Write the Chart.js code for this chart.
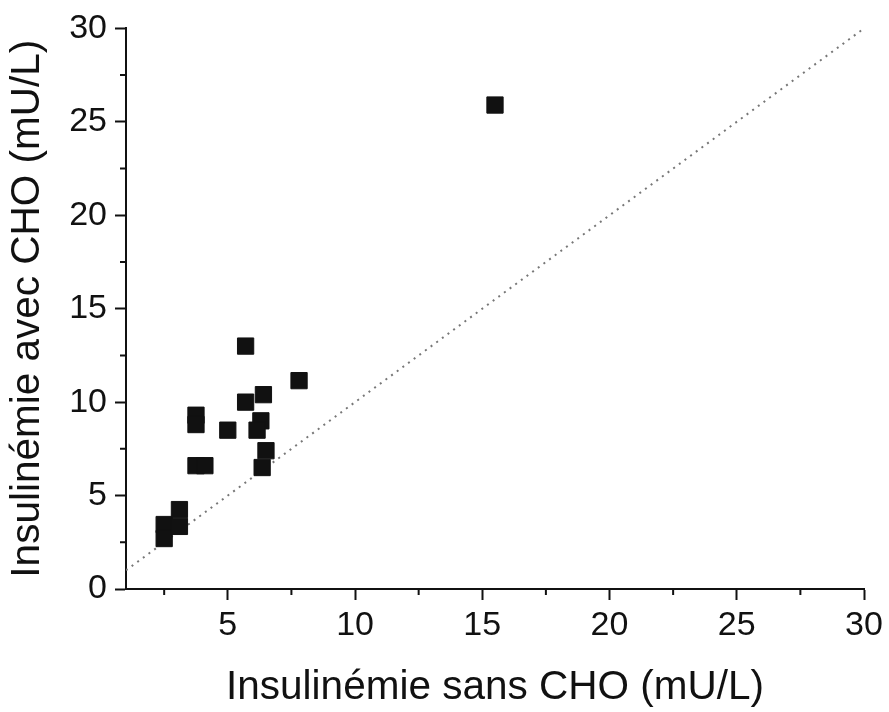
<!DOCTYPE html>
<html>
<head>
<meta charset="utf-8">
<script src="https://cdn.jsdelivr.net/npm/chart.js@4"></script>
<style>
  html, body { margin: 0; padding: 0; background: #fff; }
  #wrap { width: 889px; height: 712px; position: relative; }
</style>
</head>
<body>
<div id="wrap"><canvas id="graphique"></canvas></div>
<script>
// valeurs
const sansCHO = [5.7, 7.8, 6.4, 5.7, 3.75, 3.75, 5.0, 6.3, 6.15, 3.75, 4.1, 6.5, 6.35, 2.5, 2.5, 3.1, 3.1, 15.5];
const avecCHO = [13.0, 11.15, 10.4, 10.0, 9.3, 8.8, 8.5, 9.0, 8.5, 6.6, 6.6, 7.4, 6.5, 3.45, 2.7, 4.25, 3.35, 25.9];
const identite = [1, 30];
const ticksMajeurs = [0, 5, 10, 15, 20, 25, 30];
const ticksMineurs = [2.5, 7.5, 12.5, 17.5, 22.5, 27.5];

const titreX = 'Insulinémie sans CHO (mU/L)';
const titreY = 'Insulinémie avec CHO (mU/L)';

const points = sansCHO.map((x, i) => ({ x: x, y: avecCHO[i] }));
const diagonale = identite.map(v => ({ x: v, y: v }));

const police = 'Liberation Sans, Arial, sans-serif';

// petits traits secondaires sur les axes
const traitsMineurs = {
  id: 'traitsMineurs',
  afterDraw(chart) {
    const ctx = chart.ctx;
    const sx = chart.scales.x, sy = chart.scales.y;
    ctx.save();
    ctx.strokeStyle = '#111';
    ctx.lineWidth = 2;
    ctx.beginPath();
    ticksMineurs.forEach(v => {
      if (v >= sx.min && v <= sx.max) {
        const px = sx.getPixelForValue(v);
        ctx.moveTo(px, sx.top);
        ctx.lineTo(px, sx.top + 6);
      }
      if (v >= sy.min && v <= sy.max) {
        const py = sy.getPixelForValue(v);
        ctx.moveTo(sy.right, py);
        ctx.lineTo(sy.right - 6, py);
      }
    });
    ctx.stroke();
    ctx.restore();
  }
};

new Chart(document.getElementById('graphique'), {
  type: 'scatter',
  data: {
    datasets: [
      {
        label: 'points',
        data: points,
        pointStyle: 'rect',
        pointRadius: 11.5,
        pointBackgroundColor: '#111',
        pointBorderColor: '#111',
        pointBorderWidth: 1,
        showLine: false
      },
      {
        label: 'y = x',
        data: diagonale,
        showLine: true,
        borderColor: '#777',
        borderWidth: 2,
        borderDash: [2, 5],
        pointRadius: 0
      }
    ]
  },
  plugins: [traitsMineurs],
  options: {
    responsive: true,
    maintainAspectRatio: false,
    animation: false,
    layout: { padding: { top: 25, right: 25, bottom: 0, left: 0 } },
    plugins: {
      legend: { display: false },
      tooltip: { enabled: false }
    },
    scales: {
      x: {
        type: 'linear',
        min: 1,
        max: 30,
        afterBuildTicks: (scale) => { scale.ticks = ticksMajeurs.filter(v => v >= 5).map(v => ({ value: v })); },
        afterFit: (scale) => { scale.height = 123; },
        grid: { drawOnChartArea: false, drawTicks: true, tickLength: 11, tickWidth: 2, tickColor: '#111' },
        border: { display: true, color: '#111', width: 2 },
        ticks: { color: '#111', padding: 5, font: { family: police, size: 34 }, maxRotation: 0 },
        title: { display: true, text: titreX, color: '#111', padding: 0, font: { family: police, size: 40.5 } }
      },
      y: {
        type: 'linear',
        min: 0,
        max: 30,
        afterBuildTicks: (scale) => { scale.ticks = ticksMajeurs.map(v => ({ value: v })); },
        afterFit: (scale) => { scale.width = 126; },
        grid: { drawOnChartArea: false, drawTicks: true, tickLength: 11, tickWidth: 2, tickColor: '#111' },
        border: { display: true, color: '#111', width: 2 },
        ticks: { color: '#111', padding: 8, font: { family: police, size: 34 } },
        title: { display: true, text: titreY, color: '#111', padding: { top: 4, bottom: 0 }, font: { family: police, size: 40.5 } }
      }
    }
  }
});
</script>
</body>
</html>
